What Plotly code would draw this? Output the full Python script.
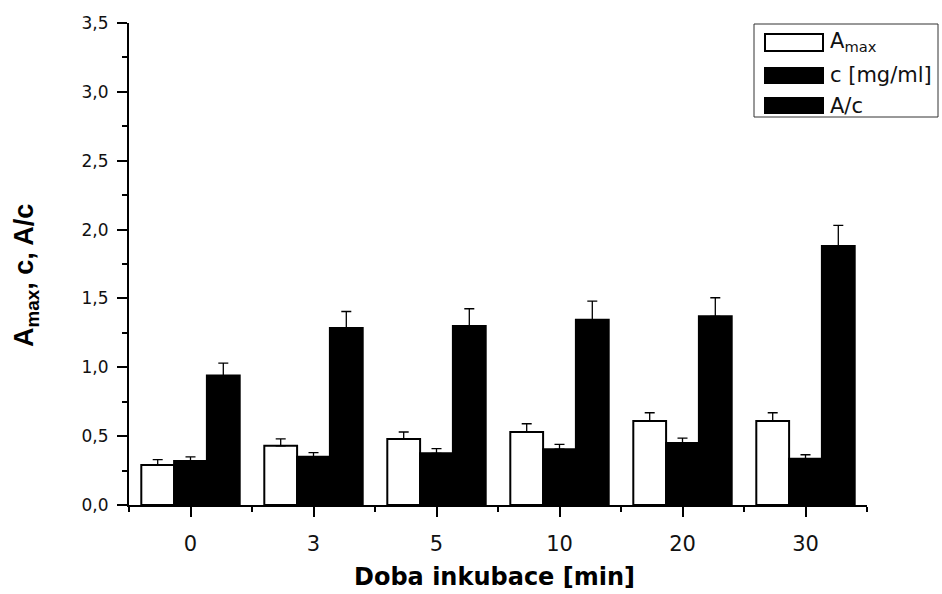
import plotly.graph_objects as go

categories = ["0", "3", "5", "10", "20", "30"]
amax = [0.29, 0.43, 0.48, 0.53, 0.61, 0.61]
amax_err = [0.04, 0.05, 0.05, 0.06, 0.06, 0.06]
conc = [0.32, 0.35, 0.375, 0.405, 0.45, 0.335]
conc_err = [0.03, 0.03, 0.035, 0.035, 0.035, 0.03]
ratio = [0.94, 1.285, 1.30, 1.345, 1.37, 1.88]
ratio_err = [0.09, 0.12, 0.125, 0.135, 0.135, 0.15]
series_names = ["A<sub>max</sub>", "c [mg/ml]", "A/c"]

FONT = "Liberation Sans, Arial, sans-serif"
WIDE = "DejaVu Sans, Verdana, sans-serif"
xpos = list(range(len(categories)))

fig = go.Figure()
for vals, errs, fill, name in [
    (amax, amax_err, "white", series_names[0]),
    (conc, conc_err, "black", series_names[1]),
    (ratio, ratio_err, "black", series_names[2]),
]:
    fig.add_trace(go.Bar(
        x=xpos, y=vals, name=name, showlegend=False,
        marker=dict(color=fill, line=dict(color="black", width=2)),
        error_y=dict(type="data", symmetric=False, array=errs,
                     arrayminus=[0] * len(errs), color="black",
                     thickness=1.3, width=5),
    ))

L, R, T, B = 129, 75, 23, 89
W, H = 942, 594
pw, ph = W - L - R, H - T - B


def px_x(x):
    return (x - L) / pw


def px_y(y):
    return (H - B - y) / ph


fig.update_layout(
    width=W, height=H,
    margin=dict(l=L, r=R, t=T, b=B, pad=0),
    plot_bgcolor="white", paper_bgcolor="white",
    barmode="group", bargap=0.2, bargroupgap=0,
    separators=",.",
    font=dict(family=FONT, color="#111"),
    xaxis=dict(
        range=[-0.5, 5.5], tickmode="array", tickvals=xpos, ticktext=categories,
        showline=True, linecolor="black", linewidth=2, showgrid=False, zeroline=False,
        ticks="outside", ticklen=10, tickwidth=2, tickcolor="black",
        tickfont=dict(size=21, family=WIDE, color="#111"),
        ticklabelstandoff=9,
        minor=dict(tickmode="linear", tick0=-0.5, dtick=1, ticks="outside",
                   ticklen=5, tickwidth=2, tickcolor="black", showgrid=False),
    ),
    yaxis=dict(
        range=[0, 3.5], tickmode="linear", tick0=0, dtick=0.5, tickformat=".1f",
        showline=True, linecolor="black", linewidth=2, showgrid=False, zeroline=False,
        ticks="outside", ticklen=10, tickwidth=2, tickcolor="black",
        tickfont=dict(size=17, family=WIDE, color="#111"),
        ticklabelstandoff=5,
        minor=dict(tickmode="linear", tick0=0.25, dtick=0.5, ticks="outside",
                   ticklen=5, tickwidth=2, tickcolor="black", showgrid=False),
    ),
)

# axis titles
fig.add_annotation(text="<b>Doba inkubace [min]</b>", xref="paper", yref="paper",
                   x=px_x(494), y=px_y(577), xanchor="center", yanchor="middle",
                   showarrow=False, font=dict(size=24, family=WIDE, color="#000"))
fig.add_annotation(text="<b>A<sub>max</sub>, c, A/c</b>", xref="paper", yref="paper",
                   x=px_x(26), y=px_y(275), xanchor="center", yanchor="middle",
                   textangle=-90, showarrow=False,
                   font=dict(size=27, family=FONT, color="#000"))

# legend box (drawn manually)
fig.add_shape(type="rect", xref="paper", yref="paper",
              x0=px_x(754), x1=px_x(938), y0=px_y(117), y1=px_y(24),
              line=dict(color="#333", width=1), fillcolor="white", layer="above")
legend_rows = [
    (series_names[0], "white", 34, 51, 42),
    (series_names[1], "black", 68, 83, 75),
    (series_names[2], "black", 98, 113, 106),
]
for name, fill, y0, y1, ty in legend_rows:
    fig.add_shape(type="rect", xref="paper", yref="paper",
                  x0=px_x(765), x1=px_x(823), y0=px_y(y1), y1=px_y(y0),
                  line=dict(color="black", width=2), fillcolor=fill, layer="above")
    fig.add_annotation(text=name, xref="paper", yref="paper",
                       x=px_x(828), y=px_y(ty), xanchor="left", yanchor="middle",
                       showarrow=False, font=dict(size=21, family=WIDE, color="#111"))

fig.write_html("out.html")
